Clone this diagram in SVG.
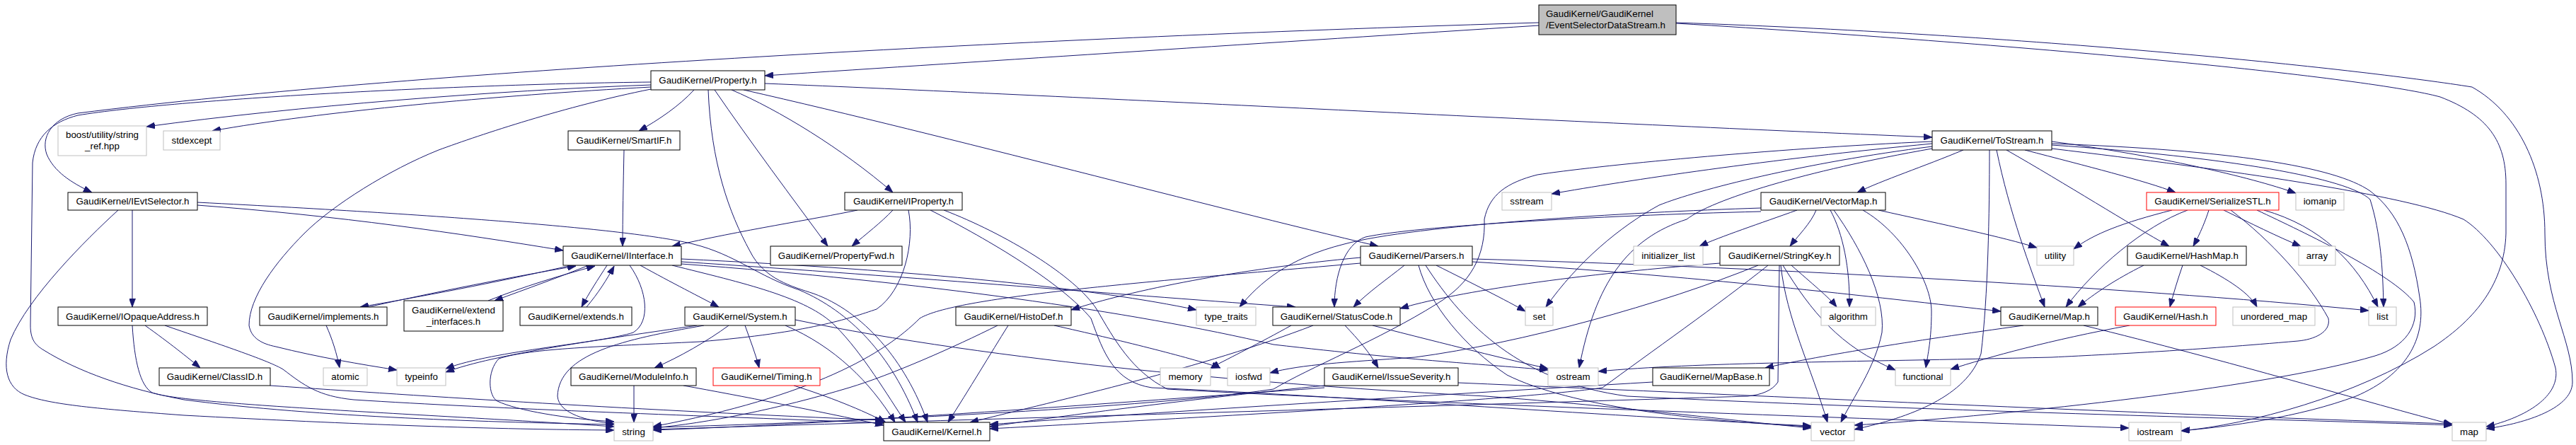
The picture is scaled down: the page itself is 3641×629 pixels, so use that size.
<svg xmlns="http://www.w3.org/2000/svg" width="3641" height="629" viewBox="0 0 3641 629">
<defs>
<marker id="a" viewBox="0 0 12 9" markerWidth="12" markerHeight="9" refX="12" refY="4.5" orient="auto" markerUnits="userSpaceOnUse"><path d="M0,0 L12,4.5 L0,9 z" fill="#191970" stroke="#191970" stroke-width="0.8"/></marker>
</defs>
<style>
.e{fill:none;stroke:#191970;stroke-width:1;marker-end:url(#a)}
.n rect{fill:#ffffff;stroke:#000000;stroke-width:1}
.g rect{fill:#ffffff;stroke:#bfbfbf;stroke-width:1}
.r rect{fill:#ffffff;stroke:#ff0000;stroke-width:1}
.root rect{fill:#bfbfbf;stroke:#000000;stroke-width:1}
text{font-family:"Liberation Sans",Arial,Helvetica,sans-serif;font-size:13.33px;fill:#000000;text-anchor:middle}
.root text{text-anchor:start}
</style>
<rect x="0" y="0" width="3641" height="629" fill="#ffffff"/>
<g id="edges">
<path class="e" d="M2175,36 C1800,60 1400,86 1081,107"/>
<path class="e" d="M2175,32 C1500,52 600,98 110,160 C72,168 58,195 66,218 C76,242 100,258 130,272"/>
<path class="e" d="M2369,32 C2900,50 3350,100 3494,123 C3560,160 3597,240 3597,330 C3597,430 3636,480 3636,540 C3636,580 3560,600 3514,606"/>
<path class="e" d="M2369,33 C2900,65 3350,110 3449,137 C3517,163 3542,200 3542,260 L3542,330 C3540,400 3500,450 3440,490 C3330,560 3180,600 3083,609"/>
<path class="e" d="M920,120 C700,128 420,150 207,179"/>
<path class="e" d="M920,123 C700,135 450,158 300,185"/>
<path class="e" d="M920,116 C650,119 250,140 110,163 C75,172 50,192 46,230 L43,460 C43,480 50,488 62,495 C110,525 180,550 260,565 C450,590 700,597 868,600"/>
<path class="e" d="M920,126 C800,150 680,190 620,212 C550,240 470,290 430,330 C390,370 352,420 352,460 C355,478 370,486 390,490 C450,505 510,515 561,523"/>
<path class="e" d="M981,127 C960,150 930,170 903,185"/>
<path class="e" d="M1034,127 C1100,155 1190,210 1262,272"/>
<path class="e" d="M1010,127 C1060,200 1120,280 1170,348"/>
<path class="e" d="M1051,127 C1350,195 1700,290 1948,348"/>
<path class="e" d="M1081,118 C1500,135 2200,172 2731,194"/>
<path class="e" d="M1001,127 C1005,230 1030,300 1060,355 C1080,395 1120,405 1150,415 C1220,440 1280,510 1311,597"/>
<path class="e" d="M882,212 C881,260 880,310 880,348"/>
<path class="e" d="M187,297 L187,434"/>
<path class="e" d="M167,297 C120,340 40,420 15,480 C2,520 10,548 35,558 C70,572 140,578 260,587 C500,600 700,607 868,608"/>
<path class="e" d="M279,290 C480,305 650,330 796,354"/>
<path class="e" d="M279,286 C650,305 900,325 980,345 C1040,360 1070,390 1130,410 C1200,440 1260,500 1297,597"/>
<path class="e" d="M205,460 C240,485 265,505 283,520"/>
<path class="e" d="M233,460 C320,490 380,510 400,522 C430,545 450,560 500,565 C700,578 1000,588 1249,598"/>
<path class="e" d="M187,460 C190,510 198,545 215,555 C260,572 600,585 868,603"/>
<path class="e" d="M382,545 C600,560 900,580 1249,594"/>
<path class="e" d="M520,434 C620,412 720,392 814,376"/>
<path class="e" d="M461,460 C470,480 476,500 480,520"/>
<path class="e" d="M808,375 C720,395 620,415 509,434"/>
<path class="e" d="M690,425 C740,405 790,390 841,376"/>
<path class="e" d="M832,375 C790,392 745,408 699,425"/>
<path class="e" d="M829,434 C845,415 858,395 868,376"/>
<path class="e" d="M858,375 C845,395 832,415 822,434"/>
<path class="e" d="M905,375 C950,400 990,420 1016,434"/>
<path class="e" d="M890,375 C915,410 920,455 895,470 C850,485 700,495 630,521"/>
<path class="e" d="M950,375 C1050,400 1140,420 1180,460 C1220,500 1255,560 1280,597"/>
<path class="e" d="M963,366 C1300,382 1550,408 1691,438"/>
<path class="e" d="M963,370 C1300,392 1600,418 1831,434"/>
<path class="e" d="M963,373 C1300,398 1600,440 1800,487 C2000,510 2100,515 2188,523"/>
<path class="e" d="M1030,460 C1000,482 960,505 925,520"/>
<path class="e" d="M1053,460 C1060,480 1068,500 1073,520"/>
<path class="e" d="M1110,460 C1180,490 1230,540 1265,597"/>
<path class="e" d="M1124,452 C1400,510 1800,545 2100,560 C2300,575 2450,595 2560,605"/>
<path class="e" d="M995,460 C880,480 790,500 788,560 C790,585 830,595 868,599"/>
<path class="e" d="M985,460 C850,480 700,500 630,526"/>
<path class="e" d="M896,545 L896,597"/>
<path class="e" d="M966,545 C1050,560 1150,580 1249,601"/>
<path class="e" d="M1122,545 C1170,560 1220,580 1252,597"/>
<path class="e" d="M1425,460 C1400,500 1370,550 1340,597"/>
<path class="e" d="M1410,460 C1350,490 1260,530 1200,548 C1100,578 1000,598 923,605"/>
<path class="e" d="M1490,460 C1580,480 1680,505 1725,520"/>
<path class="e" d="M1923,364 C1750,380 1600,410 1514,438"/>
<path class="e" d="M1985,375 C1960,395 1935,412 1913,434"/>
<path class="e" d="M2030,375 C2080,400 2130,425 2156,440"/>
<path class="e" d="M2081,370 C2400,390 2650,420 2828,440"/>
<path class="e" d="M2081,366 C2450,376 3000,405 3348,439"/>
<path class="e" d="M1923,372 C1600,400 1350,420 1300,450 C1250,500 1150,560 923,603"/>
<path class="e" d="M2005,375 C2020,430 2070,490 2130,530 C2220,575 2400,595 2560,603"/>
<path class="e" d="M2015,375 C2070,460 2150,540 2300,560 C2700,580 3200,592 3466,601"/>
<path class="e" d="M1940,460 C2050,488 2130,508 2188,521"/>
<path class="e" d="M1901,460 C1920,480 1935,497 1948,520"/>
<path class="e" d="M1856,460 C1700,520 1500,565 1371,597"/>
<path class="e" d="M1825,460 C1780,485 1740,505 1711,520"/>
<path class="e" d="M1872,545 C1700,562 1500,588 1399,603"/>
<path class="e" d="M1872,548 C1500,575 1200,598 923,608"/>
<path class="e" d="M2061,541 C2500,560 3100,588 3466,599"/>
<path class="e" d="M2731,203 C2500,225 2300,255 2193,274"/>
<path class="e" d="M2731,200 C2500,210 2250,235 2173,247 C2130,258 2105,275 2098,310 C2100,360 2080,400 2030,430 C1950,480 1850,520 1800,550 C1600,580 1100,600 923,604"/>
<path class="e" d="M2731,207 C2550,230 2400,268 2345,290 C2290,320 2230,370 2185,434"/>
<path class="e" d="M2731,210 C2550,242 2420,282 2384,310 C2300,337 2255,400 2232,520"/>
<path class="e" d="M2775,212 C2720,235 2660,255 2625,272"/>
<path class="e" d="M2812,212 C2812,300 2810,420 2800,500 C2780,560 2700,590 2621,607"/>
<path class="e" d="M2822,212 C2840,300 2870,380 2890,434"/>
<path class="e" d="M2836,212 C2920,260 3010,317 3066,348"/>
<path class="e" d="M2862,212 C2950,235 3030,255 3075,272"/>
<path class="e" d="M2900,200 C3050,220 3180,250 3245,273"/>
<path class="e" d="M2900,205 C3150,222 3320,252 3350,282 C3365,330 3368,380 3369,434"/>
<path class="e" d="M2900,203 C3150,212 3300,235 3350,270 C3390,300 3410,350 3420,420 C3430,480 3400,530 3330,560 C3250,590 3150,603 3083,609"/>
<path class="e" d="M2900,210 C3150,240 3400,275 3482,310 C3530,340 3590,440 3612,520 C3620,560 3570,590 3514,603"/>
<path class="e" d="M3122,297 C3118,310 3110,330 3100,348"/>
<path class="e" d="M3092,297 C3030,320 2960,380 2920,434"/>
<path class="e" d="M3070,297 C3000,315 2960,330 2931,352"/>
<path class="e" d="M3143,297 C3180,315 3220,335 3252,348"/>
<path class="e" d="M3153,297 C3210,340 3264,400 3291,450 C3295,470 3270,480 3248,482 C3100,495 3000,500 2900,505 C2600,512 2400,512 2259,525"/>
<path class="e" d="M3200,297 C3280,320 3330,370 3361,434"/>
<path class="e" d="M3190,297 C3260,330 3380,387 3412,427 C3420,460 3400,490 3357,503 C3200,550 2800,590 2621,601"/>
<path class="e" d="M3030,375 C2990,395 2960,415 2937,434"/>
<path class="e" d="M3085,375 C3078,395 3072,415 3067,434"/>
<path class="e" d="M3110,375 C3150,395 3180,415 3190,434"/>
<path class="e" d="M3010,460 C2900,480 2810,505 2757,522"/>
<path class="e" d="M2860,460 C2700,482 2560,505 2495,520"/>
<path class="e" d="M2945,460 C3150,510 3350,570 3466,600"/>
<path class="e" d="M2336,540 C2000,560 1600,585 1399,600"/>
<path class="e" d="M2431,372 C2200,390 2050,415 1979,436"/>
<path class="e" d="M2485,375 C2350,430 2150,485 2000,505 C1900,512 1840,515 1795,527"/>
<path class="e" d="M2499,375 C2430,430 2330,500 2265,548 C2150,565 1700,590 1399,606"/>
<path class="e" d="M2515,375 L2513,540 C2505,552 2490,558 2470,560 C2000,575 1300,595 923,607"/>
<path class="e" d="M2532,375 C2560,400 2585,420 2596,434"/>
<path class="e" d="M2520,375 C2560,440 2600,490 2679,523"/>
<path class="e" d="M2517,375 C2525,450 2560,520 2583,597"/>
<path class="e" d="M2540,297 C2490,315 2430,335 2402,348"/>
<path class="e" d="M2567,297 C2560,315 2540,335 2530,348"/>
<path class="e" d="M2587,297 C2605,330 2615,380 2614,434"/>
<path class="e" d="M2592,297 C2630,350 2665,420 2660,470 C2650,520 2620,560 2602,597"/>
<path class="e" d="M2633,297 C2690,330 2730,400 2730,440 C2730,480 2725,500 2722,520"/>
<path class="e" d="M2655,297 C2750,318 2830,335 2879,350"/>
<path class="e" d="M2489,294 C2300,300 2000,318 1900,345 C1820,365 1780,400 1752,434"/>
<path class="e" d="M2489,299 C2250,305 2000,320 1930,335 C1900,345 1886,390 1886,434"/>
<path class="e" d="M1212,297 C1150,310 1050,325 950,348"/>
<path class="e" d="M1262,297 C1245,315 1225,330 1204,348"/>
<path class="e" d="M1284,297 C1293,343 1278,410 1239,437 C1200,450 1145,470 989,483 C850,490 750,492 705,507 C688,525 690,560 703,567 C730,580 800,592 868,596"/>
<path class="e" d="M1315,297 C1400,340 1500,400 1542,450 C1560,500 1575,540 1628,548 C1900,560 2300,590 2560,602"/>
<path class="e" d="M1334,297 C1420,330 1520,390 1550,437 C1575,480 1600,525 1650,550 C2000,570 2600,590 3009,605"/>
</g>
<g id="n_root" class="root"><rect x="2175" y="7" width="194" height="42"/><text x="2185" y="24">GaudiKernel/GaudiKernel</text><text x="2185" y="40">/EventSelectorDataStream.h</text></g>
<g id="n_property" class="n"><rect x="920" y="100" width="161" height="27"/><text x="1000.5" y="118">GaudiKernel/Property.h</text></g>
<g id="n_boost" class="g"><rect x="82" y="178" width="125" height="42"/><text x="144.5" y="195">boost/utility/string</text><text x="144.5" y="211">_ref.hpp</text></g>
<g id="n_stdexcept" class="g"><rect x="231" y="185" width="80" height="27"/><text x="271" y="203">stdexcept</text></g>
<g id="n_smartif" class="n"><rect x="803" y="185" width="158" height="27"/><text x="882" y="203">GaudiKernel/SmartIF.h</text></g>
<g id="n_tostream" class="n"><rect x="2731" y="185" width="169" height="27"/><text x="2815.5" y="203">GaudiKernel/ToStream.h</text></g>
<g id="n_ievtselector" class="n"><rect x="96" y="272" width="183" height="25"/><text x="187.5" y="289">GaudiKernel/IEvtSelector.h</text></g>
<g id="n_iproperty" class="n"><rect x="1194" y="272" width="166" height="25"/><text x="1277" y="289">GaudiKernel/IProperty.h</text></g>
<g id="n_sstream" class="g"><rect x="2123" y="272" width="70" height="25"/><text x="2158" y="289">sstream</text></g>
<g id="n_vectormap" class="n"><rect x="2489" y="272" width="176" height="25"/><text x="2577" y="289">GaudiKernel/VectorMap.h</text></g>
<g id="n_serializestl" class="r"><rect x="3034" y="272" width="187" height="25"/><text x="3127.5" y="289">GaudiKernel/SerializeSTL.h</text></g>
<g id="n_iomanip" class="g"><rect x="3245" y="272" width="68" height="25"/><text x="3279" y="289">iomanip</text></g>
<g id="n_iinterface" class="n"><rect x="796" y="348" width="167" height="27"/><text x="879.5" y="366">GaudiKernel/IInterface.h</text></g>
<g id="n_propertyfwd" class="n"><rect x="1089" y="348" width="186" height="27"/><text x="1182" y="366">GaudiKernel/PropertyFwd.h</text></g>
<g id="n_parsers" class="n"><rect x="1923" y="348" width="158" height="27"/><text x="2002" y="366">GaudiKernel/Parsers.h</text></g>
<g id="n_initializer_list" class="g"><rect x="2309" y="348" width="98" height="27"/><text x="2358" y="366">initializer_list</text></g>
<g id="n_stringkey" class="n"><rect x="2431" y="348" width="169" height="27"/><text x="2515.5" y="366">GaudiKernel/StringKey.h</text></g>
<g id="n_utility" class="g"><rect x="2879" y="348" width="52" height="27"/><text x="2905" y="366">utility</text></g>
<g id="n_hashmap" class="n"><rect x="3007" y="348" width="168" height="27"/><text x="3091" y="366">GaudiKernel/HashMap.h</text></g>
<g id="n_array" class="g"><rect x="3249" y="348" width="52" height="27"/><text x="3275" y="366">array</text></g>
<g id="n_iopaqueaddress" class="n"><rect x="82" y="434" width="211" height="26"/><text x="187.5" y="451.5">GaudiKernel/IOpaqueAddress.h</text></g>
<g id="n_implements" class="n"><rect x="367" y="434" width="180" height="26"/><text x="457" y="451.5">GaudiKernel/implements.h</text></g>
<g id="n_extend_interfaces" class="n"><rect x="571" y="425" width="140" height="43"/><text x="641" y="442.5">GaudiKernel/extend</text><text x="641" y="458.5">_interfaces.h</text></g>
<g id="n_extends" class="n"><rect x="735" y="434" width="158" height="26"/><text x="814" y="451.5">GaudiKernel/extends.h</text></g>
<g id="n_system" class="n"><rect x="968" y="434" width="156" height="26"/><text x="1046" y="451.5">GaudiKernel/System.h</text></g>
<g id="n_histodef" class="n"><rect x="1351" y="434" width="163" height="26"/><text x="1432.5" y="451.5">GaudiKernel/HistoDef.h</text></g>
<g id="n_type_traits" class="g"><rect x="1691" y="434" width="84" height="26"/><text x="1733" y="451.5">type_traits</text></g>
<g id="n_statuscode" class="n"><rect x="1799" y="434" width="180" height="26"/><text x="1889" y="451.5">GaudiKernel/StatusCode.h</text></g>
<g id="n_set" class="g"><rect x="2156" y="434" width="39" height="26"/><text x="2175.5" y="451.5">set</text></g>
<g id="n_algorithm" class="g"><rect x="2574" y="434" width="77" height="26"/><text x="2612.5" y="451.5">algorithm</text></g>
<g id="n_map_h" class="n"><rect x="2828" y="434" width="137" height="26"/><text x="2896.5" y="451.5">GaudiKernel/Map.h</text></g>
<g id="n_hash" class="r"><rect x="2990" y="434" width="142" height="26"/><text x="3061" y="451.5">GaudiKernel/Hash.h</text></g>
<g id="n_unordered_map" class="g"><rect x="3156" y="434" width="116" height="26"/><text x="3214" y="451.5">unordered_map</text></g>
<g id="n_list" class="g"><rect x="3348" y="434" width="39" height="26"/><text x="3367.5" y="451.5">list</text></g>
<g id="n_classid" class="n"><rect x="225" y="520" width="157" height="25"/><text x="303.5" y="537">GaudiKernel/ClassID.h</text></g>
<g id="n_atomic" class="g"><rect x="457" y="520" width="62" height="25"/><text x="488" y="537">atomic</text></g>
<g id="n_typeinfo" class="g"><rect x="561" y="520" width="69" height="25"/><text x="595.5" y="537">typeinfo</text></g>
<g id="n_moduleinfo" class="n"><rect x="807" y="520" width="177" height="25"/><text x="895.5" y="537">GaudiKernel/ModuleInfo.h</text></g>
<g id="n_timing" class="r"><rect x="1008" y="520" width="151" height="25"/><text x="1083.5" y="537">GaudiKernel/Timing.h</text></g>
<g id="n_memory" class="g"><rect x="1640" y="520" width="71" height="25"/><text x="1675.5" y="537">memory</text></g>
<g id="n_iosfwd" class="g"><rect x="1735" y="520" width="60" height="25"/><text x="1765" y="537">iosfwd</text></g>
<g id="n_issueseverity" class="n"><rect x="1872" y="520" width="189" height="25"/><text x="1966.5" y="537">GaudiKernel/IssueSeverity.h</text></g>
<g id="n_ostream" class="g"><rect x="2188" y="520" width="71" height="25"/><text x="2223.5" y="537">ostream</text></g>
<g id="n_mapbase" class="n"><rect x="2336" y="520" width="165" height="25"/><text x="2418.5" y="537">GaudiKernel/MapBase.h</text></g>
<g id="n_functional" class="g"><rect x="2679" y="520" width="78" height="25"/><text x="2718" y="537">functional</text></g>
<g id="n_string" class="g"><rect x="868" y="597" width="55" height="26"/><text x="895.5" y="614.5">string</text></g>
<g id="n_kernel" class="n"><rect x="1249" y="597" width="150" height="26"/><text x="1324" y="614.5">GaudiKernel/Kernel.h</text></g>
<g id="n_vector" class="g"><rect x="2560" y="597" width="61" height="26"/><text x="2590.5" y="614.5">vector</text></g>
<g id="n_iostream" class="g"><rect x="3009" y="597" width="74" height="26"/><text x="3046" y="614.5">iostream</text></g>
<g id="n_map" class="g"><rect x="3466" y="597" width="48" height="26"/><text x="3490" y="614.5">map</text></g>
</svg>
